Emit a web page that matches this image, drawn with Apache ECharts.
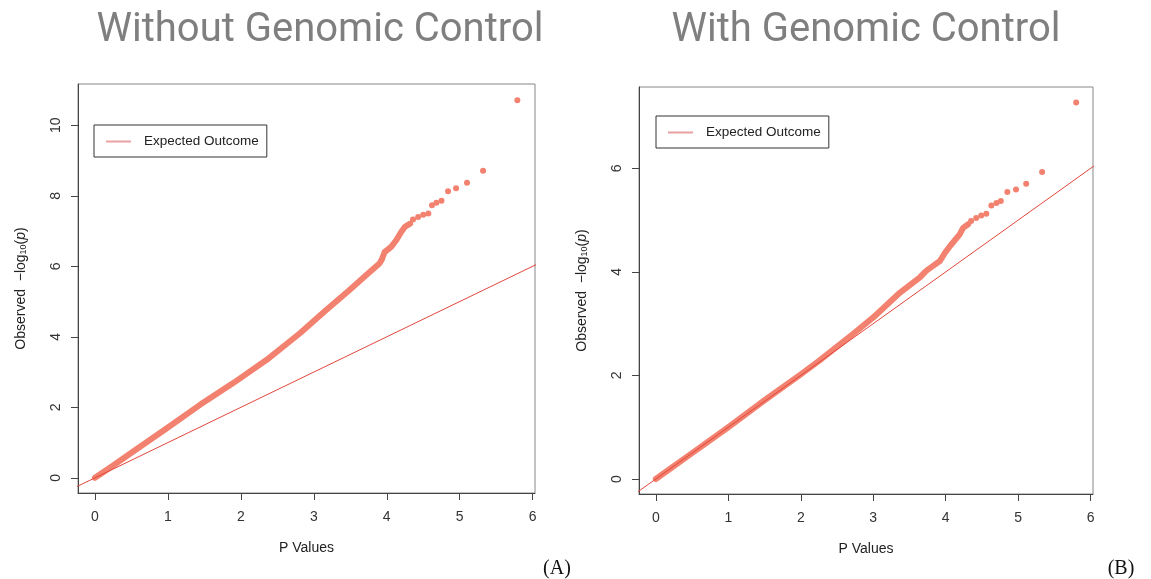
<!DOCTYPE html>
<html>
<head>
<meta charset="utf-8">
<script src="https://cdn.jsdelivr.net/npm/echarts@6/dist/echarts.min.js"></script>
<style>
  html, body { margin: 0; padding: 0; background: #fff; }
  #chart { width: 1151px; height: 579px; }
</style>
</head>
<body>
<div id="chart"></div>
<script>
// tick positions
const xTicks = [0, 1, 2, 3, 4, 5, 6]
const yTicksA = [0, 2, 4, 6, 8, 10]
const yTicksB = [0, 2, 4, 6]

// expected y = x reference line (clipped by the axes)
const expectedLine = [[-1, -1], [7, 7]]

// (A) without genomic control: dense band + sparse tail
const bandA = [
  [0, 0], [0.25, 0.35], [0.5, 0.71], [1.0, 1.43], [1.44, 2.07], [1.89, 2.68],
  [2.35, 3.34], [2.81, 4.10], [3.17, 4.76], [3.49, 5.33], [3.72, 5.75],
  [3.90, 6.08], [3.93, 6.18], [3.97, 6.40], [4.00, 6.45], [4.06, 6.55],
  [4.13, 6.74], [4.20, 6.98], [4.25, 7.12], [4.32, 7.21]
]
const tailA = [
  [4.36, 7.33], [4.43, 7.40], [4.50, 7.46], [4.57, 7.50], [4.62, 7.73],
  [4.68, 7.80], [4.75, 7.86], [4.84, 8.13], [4.95, 8.21], [5.10, 8.37],
  [5.32, 8.71], [5.79, 10.71]
]

// (B) with genomic control
const bandB = [
  [0, 0], [0.5, 0.5], [1.0, 1.0], [1.5, 1.52], [2.0, 2.02], [2.26, 2.29],
  [2.72, 2.80], [3.0, 3.12], [3.37, 3.60], [3.64, 3.89], [3.73, 4.02],
  [3.83, 4.12], [3.92, 4.21], [3.99, 4.37], [4.06, 4.50], [4.12, 4.60],
  [4.19, 4.72], [4.24, 4.85], [4.31, 4.92]
]
const tailB = [
  [4.35, 4.98], [4.42, 5.04], [4.49, 5.09], [4.56, 5.12], [4.63, 5.28],
  [4.70, 5.33], [4.76, 5.37], [4.85, 5.54], [4.97, 5.59], [5.11, 5.70],
  [5.33, 5.93], [5.80, 7.27]
]

const pointColor = '#f2826f'
const lineColor = '#e2463c'
const font = 'Liberation Sans, Arial, sans-serif'

const chart = echarts.init(document.getElementById('chart'))

function xAxis(gridIndex) {
  return {
    type: 'value',
    gridIndex,
    min: -0.232,
    max: 6.032,
    name: 'P Values',
    nameLocation: 'middle',
    nameGap: 48,
    nameTextStyle: { color: '#222', fontSize: 14, fontFamily: font },
    axisLine: { show: true, onZero: false, lineStyle: { color: '#444' } },
    axisTick: { show: true, length: 7, customValues: xTicks, lineStyle: { color: '#444' } },
    axisLabel: { customValues: xTicks, margin: 17, color: '#333', fontSize: 14, fontFamily: font },
    splitLine: { show: false }
  }
}

function yAxis(gridIndex, min, max, ticks) {
  return {
    type: 'value',
    gridIndex,
    min,
    max,
    name: '{n|Observed  \u2212log}{s|10}{n|(}{i|p}{n|)}',
    nameLocation: 'middle',
    nameGap: 50,
    nameRotate: 90,
    nameTextStyle: {
      color: '#222',
      rich: {
        n: { fontSize: 14, fontFamily: font, color: '#222', lineHeight: 18, verticalAlign: 'bottom' },
        s: { fontSize: 9, fontFamily: font, color: '#222', verticalAlign: 'bottom' },
        i: { fontSize: 14, fontFamily: font, fontStyle: 'italic', color: '#222', lineHeight: 18, verticalAlign: 'bottom' }
      }
    },
    axisLine: { show: true, onZero: false, lineStyle: { color: '#444' } },
    axisTick: { show: true, length: 7, customValues: ticks, lineStyle: { color: '#444' } },
    axisLabel: { customValues: ticks, rotate: 90, margin: 15, color: '#333', fontSize: 14, fontFamily: font },
    splitLine: { show: false }
  }
}

function legend(left, top) {
  return {
    data: ['Expected Outcome'],
    left,
    top,
    orient: 'vertical',
    selectedMode: false,
    borderColor: '#333',
    borderWidth: 1,
    borderRadius: 0,
    padding: [9, 8, 8, 12],
    icon: 'rect',
    itemWidth: 25,
    itemHeight: 2,
    itemStyle: { color: '#e9a0a0' },
    textStyle: { fontSize: 13.5, fontFamily: font, color: '#222', padding: [0, 0, 0, 8], lineHeight: 15 }
  }
}

function plotSeries(idx, band, tail) {
  return [
    {
      type: 'line',
      xAxisIndex: idx,
      yAxisIndex: idx,
      data: band,
      symbol: 'none',
      lineStyle: { width: 6, color: pointColor, cap: 'round', join: 'round' },
      silent: true,
      z: 2
    },
    {
      type: 'scatter',
      xAxisIndex: idx,
      yAxisIndex: idx,
      data: tail,
      symbolSize: 6,
      itemStyle: { color: pointColor, opacity: 1 },
      silent: true,
      z: 2
    },
    {
      name: 'Expected Outcome',
      type: 'line',
      xAxisIndex: idx,
      yAxisIndex: idx,
      data: expectedLine,
      symbol: 'none',
      clip: true,
      lineStyle: { width: 1, color: lineColor },
      itemStyle: { color: lineColor },
      silent: true,
      z: 3
    }
  ]
}

chart.setOption({
  animation: false,
  grid: [
    { left: 78, top: 84, width: 457, height: 409, show: true, borderColor: '#888', borderWidth: 1 },
    { left: 639, top: 87, width: 454, height: 407, show: true, borderColor: '#888', borderWidth: 1 }
  ],
  xAxis: [xAxis(0), xAxis(1)],
  yAxis: [yAxis(0, -0.43, 11.17, yTicksA), yAxis(1, -0.29, 7.57, yTicksB)],
  legend: [legend(94, 125), legend(656, 116)],
  series: [...plotSeries(0, bandA, tailA), ...plotSeries(1, bandB, tailB)],
  graphic: [
    {
      type: 'text', x: 320, y: 31,
      style: { text: 'Without Genomic Control', font: '40px Roboto', fill: '#7f7f7f', textAlign: 'center', textVerticalAlign: 'middle' }
    },
    {
      type: 'text', x: 866, y: 31,
      style: { text: 'With Genomic Control', font: '40px Roboto', fill: '#7f7f7f', textAlign: 'center', textVerticalAlign: 'middle' }
    },
    {
      type: 'text', x: 557, y: 569,
      style: { text: '(A)', font: '20px "Liberation Serif"', fill: '#111', textAlign: 'center', textVerticalAlign: 'middle' }
    },
    {
      type: 'text', x: 1121, y: 569,
      style: { text: '(B)', font: '20px "Liberation Serif"', fill: '#111', textAlign: 'center', textVerticalAlign: 'middle' }
    }
  ]
})
</script>
</body>
</html>
